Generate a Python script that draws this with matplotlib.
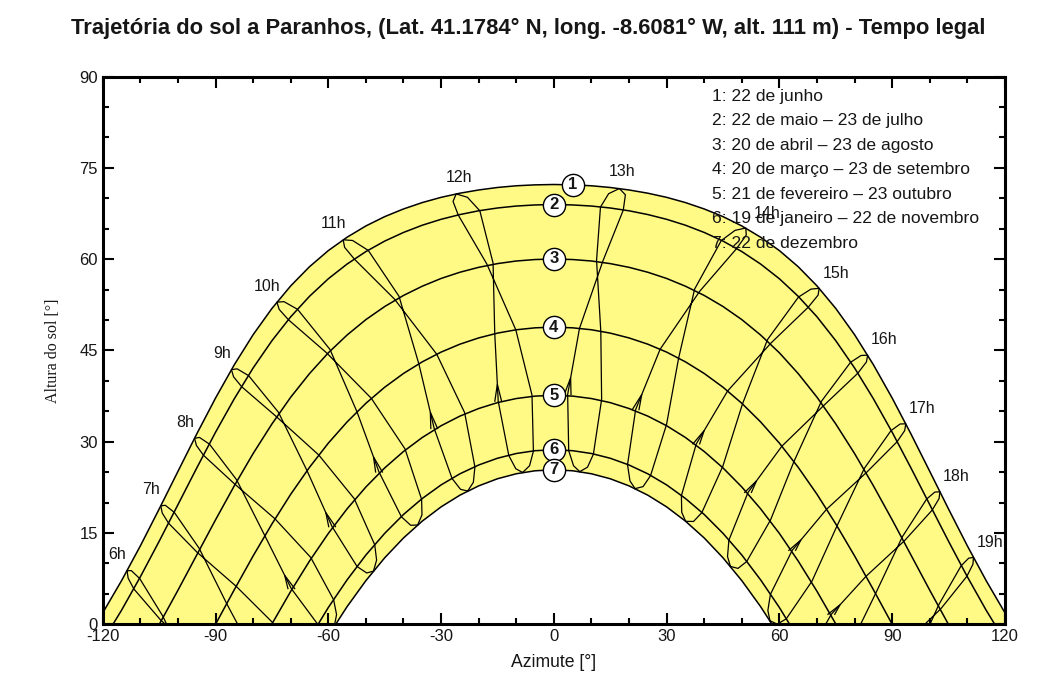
import matplotlib
matplotlib.use('Agg')
import matplotlib.pyplot as plt
import numpy as np
from matplotlib.ticker import MultipleLocator

plt.rcParams['font.family'] = ['Liberation Sans', 'DejaVu Sans']
plt.rcParams['axes.unicode_minus'] = False

# grelha de azimute (tarde) das curvas de data - as curvas sao simetricas
curve_az = [0, 5, 10, 15, 20, 25, 30, 35, 40, 45, 50, 55, 60,
            65, 70, 75, 80, 85, 90, 95, 100, 105, 110, 115, 120]

# altura do sol [graus] em cada azimute, curvas 1..7
alt_c1 = [72.26, 72.20, 72.05, 71.77, 71.36, 70.83, 70.15, 69.29, 68.24, 66.98, 65.45, 63.60, 61.40,
          58.75, 55.60, 51.89, 47.58, 42.65, 37.17, 31.27, 25.12, 18.93, 12.88, 7.17, 1.88]
alt_c2 = [68.97, 68.90, 68.72, 68.40, 67.94, 67.32, 66.54, 65.57, 64.38, 62.96, 61.24, 59.19, 56.77,
          53.89, 50.52, 46.59, 42.11, 37.06, 31.55, 25.68, 19.65, 13.63, 7.80, 2.31, -2.75]
alt_c3 = [60.02, 59.93, 59.69, 59.26, 58.65, 57.84, 56.82, 55.55, 54.03, 52.21, 50.06, 47.53, 44.60,
          41.19, 37.31, 32.91, 28.05, 22.76, 17.16, 11.38, 5.59, -0.05, -5.41, -10.39, -14.92]
alt_c4 = [48.82, 48.71, 48.39, 47.84, 47.05, 46.02, 44.72, 43.12, 41.21, 38.95, 36.31, 33.25, 29.76,
          25.79, 21.36, 16.48, 11.23, 5.69, 0.00, -5.69, -11.23, -16.48, -21.36, -25.79, -29.76]
alt_c5 = [37.62, 37.49, 37.09, 36.42, 35.45, 34.20, 32.62, 30.69, 28.39, 25.69, 22.56, 18.97, 14.92,
          10.39, 5.41, 0.05, -5.59, -11.38, -17.16, -22.76, -28.05, -32.91, -37.31, -41.19, -44.60]
alt_c6 = [28.67, 28.52, 28.06, 27.28, 26.17, 24.72, 22.90, 20.67, 18.04, 14.94, 11.38, 7.30, 2.75,
          -2.31, -7.80, -13.63, -19.65, -25.68, -31.55, -37.06, -42.11, -46.59, -50.52, -53.89, -56.77]
alt_c7 = [25.38, 25.22, 24.73, 23.91, 22.74, 21.21, 19.29, 16.95, 14.18, 10.92, 7.17, 2.90, -1.88,
          -7.17, -12.88, -18.93, -25.12, -31.27, -37.17, -42.65, -47.58, -51.89, -55.60, -58.75, -61.40]

legend_lines = ['1: 22 de junho',
                '2: 22 de maio \u2013 23 de julho',
                '3: 20 de abril \u2013 23 de agosto',
                '4: 20 de mar\u00e7o \u2013 23 de setembro',
                '5: 21 de fevereiro \u2013 23 outubro',
                '6: 19 de janeiro \u2013 22 de novembro',
                '7: 22 de dezembro']

# linhas horarias (tempo legal), 6h..19h : posicao do sol em cada data
hours = [6, 7, 8, 9, 10, 11, 12, 13, 14, 15, 16, 17, 18, 19]

az_dec22 = [-76.78, -67.84, -58.41, -47.99, -36.24, -22.92, -8.30, 6.89, 21.61, 35.06, 46.97, 57.49, 67.00, 75.96]
alt_dec22 = [-21.13, -10.38, -0.31, 8.73, 16.31, 21.89, 24.94, 25.08, 22.29, 16.92, 9.51, 0.58, -9.40, -20.10]
az_jan05 = [-78.52, -69.53, -60.12, -49.78, -38.09, -24.82, -10.13, 5.24, 20.25, 34.02, 46.20, 56.93, 66.59, 75.65]
alt_jan05 = [-21.87, -11.02, -0.81, 8.43, 16.27, 22.17, 25.56, 26.05, 23.55, 18.40, 11.12, 2.27, -7.67, -18.35]
az_jan19 = [-81.42, -72.25, -62.75, -52.33, -40.55, -27.07, -11.99, 3.95, 19.60, 33.93, 46.56, 57.61, 67.51, 76.78]
alt_jan19 = [-21.45, -10.47, -0.05, 9.48, 17.66, 23.95, 27.74, 28.53, 26.22, 21.13, 13.82, 4.92, -5.10, -15.84]
az_feb21 = [-89.48, -79.77, -69.84, -58.99, -46.51, -31.83, -14.80, 3.67, 21.75, 37.89, 51.66, 63.41, 73.82, 83.58]
alt_feb21 = [-16.25, -5.02, 5.86, 16.04, 25.02, 32.17, 36.65, 37.76, 35.26, 29.64, 21.67, 12.15, 1.64, -9.42]
az_mar20 = [-96.96, -87.03, -76.88, -65.65, -52.37, -35.92, -15.72, 6.82, 28.27, 46.23, 60.65, 72.56, 83.04, 92.97]
alt_mar20 = [-7.88, 3.39, 14.55, 25.23, 34.91, 42.80, 47.74, 48.62, 45.19, 38.34, 29.26, 18.91, 7.88, -3.39]
az_apr20 = [-104.03, -94.34, -84.39, -73.25, -59.55, -41.18, -16.17, 13.03, 38.75, 57.79, 71.89, 83.24, 93.26, 102.95]
alt_apr20 = [1.34, 12.47, 23.74, 34.82, 45.15, 53.88, 59.35, 59.66, 54.68, 46.23, 36.00, 24.99, 13.72, 2.55]
az_may22 = [-110.18, -100.97, -91.62, -81.21, -68.18, -49.37, -19.69, 18.47, 48.58, 67.66, 80.83, 91.29, 100.66, 109.87]
alt_may22 = [7.52, 18.39, 29.60, 40.86, 51.75, 61.43, 67.94, 68.06, 61.71, 52.09, 41.23, 29.98, 18.77, 7.88]
az_jun06 = [-112.40, -103.36, -94.27, -84.26, -71.79, -53.54, -22.99, 19.03, 51.18, 70.29, 83.15, 93.33, 102.47, 111.48]
alt_jun06 = [8.82, 19.55, 30.70, 41.97, 53.01, 63.06, 70.16, 70.57, 63.94, 54.08, 43.10, 31.82, 20.65, 9.86]
az_jun22 = [-113.54, -104.57, -95.58, -85.77, -73.67, -56.05, -25.98, 17.43, 51.06, 70.58, 83.48, 93.62, 102.70, 111.63]
alt_jun22 = [8.80, 19.46, 30.56, 41.84, 52.93, 63.18, 70.71, 71.60, 65.11, 55.20, 44.21, 32.94, 21.77, 10.99]
az_jul08 = [-113.24, -104.16, -95.08, -85.20, -73.06, -55.66, -26.82, 14.57, 48.22, 68.39, 81.73, 92.12, 101.34, 110.35]
alt_jul08 = [7.57, 18.26, 29.38, 40.66, 51.73, 61.93, 69.48, 70.75, 64.73, 55.07, 44.17, 32.91, 21.72, 10.86]
az_jul23 = [-111.72, -102.47, -93.19, -83.04, -70.58, -53.05, -25.42, 12.40, 44.55, 65.08, 78.92, 89.69, 99.17, 108.35]
alt_jul23 = [5.80, 16.59, 27.76, 39.03, 50.02, 59.99, 67.23, 68.55, 63.06, 53.77, 43.04, 31.82, 20.58, 9.62]
az_aug23 = [-104.60, -94.89, -84.99, -73.95, -60.44, -42.41, -17.80, 11.36, 37.45, 56.84, 71.17, 82.62, 92.70, 102.38]
alt_aug23 = [0.70, 11.82, 23.09, 34.19, 44.59, 53.44, 59.16, 59.79, 55.08, 46.78, 36.63, 25.64, 14.37, 3.19]
az_sep23 = [-94.42, -84.51, -74.17, -62.53, -48.55, -31.15, -10.12, 12.49, 33.19, 50.18, 63.86, 75.32, 85.58, 95.49]
alt_sep23 = [-5.04, 6.24, 17.32, 27.81, 37.12, 44.37, 48.38, 48.14, 43.73, 36.21, 26.73, 16.16, 5.04, -6.24]
az_oct23 = [-84.69, -74.97, -64.67, -53.10, -39.60, -23.73, -5.81, 12.71, 29.98, 44.95, 57.65, 68.66, 78.65, 88.34]
alt_oct23 = [-10.71, 0.38, 10.98, 20.64, 28.82, 34.77, 37.65, 36.96, 32.84, 25.96, 17.15, 7.08, -3.74, -14.95]
az_nov22 = [-77.63, -68.40, -58.58, -47.65, -35.18, -21.00, -5.44, 10.52, 25.72, 39.36, 51.30, 61.82, 71.39, 80.57]
alt_nov22 = [-16.86, -6.08, 4.02, 13.06, 20.53, 25.86, 28.44, 27.95, 24.42, 18.34, 10.31, 0.89, -9.47, -20.41]
az_dec06 = [-76.44, -67.39, -57.80, -47.15, -35.08, -21.41, -6.46, 8.95, 23.74, 37.15, 48.98, 59.42, 68.89, 77.89]
alt_dec06 = [-19.15, -8.43, 1.59, 10.55, 17.97, 23.33, 26.05, 25.81, 22.62, 16.89, 9.18, 0.02, -10.13, -20.94]

# ordem do ano (o anel fecha em dezembro)
year_az = [az_dec22, az_jan05, az_jan19, az_feb21, az_mar20, az_apr20, az_may22, az_jun06, az_jun22,
           az_jul08, az_jul23, az_aug23, az_sep23, az_oct23, az_nov22, az_dec06, az_dec22]
year_alt = [alt_dec22, alt_jan05, alt_jan19, alt_feb21, alt_mar20, alt_apr20, alt_may22, alt_jun06, alt_jun22,
            alt_jul08, alt_jul23, alt_aug23, alt_sep23, alt_oct23, alt_nov22, alt_dec06, alt_dec22]

yellow = '#FFF985'
txt = '#161616'


def full_curve(alt):
    g = np.array(curve_az, dtype=float)
    a = np.array(alt, dtype=float)
    return np.concatenate([-g[::-1], g[1:]]), np.concatenate([a[::-1], a[1:]])


fig, ax = plt.subplots(figsize=(10.4, 6.87), dpi=100)
fig.subplots_adjust(left=0.0988, right=0.9663, bottom=0.0913, top=0.8886)

# faixa amarela entre 22 de junho e 22 de dezembro
x1, y1 = full_curve(alt_c1)
x7, y7 = full_curve(alt_c7)
ax.fill_between(x1, y7, y1, color=yellow, lw=0, zorder=1)

# curvas de data
curves = [alt_c1, alt_c2, alt_c3, alt_c4, alt_c5, alt_c6, alt_c7]
for c in curves:
    cx, cy = full_curve(c)
    ax.plot(cx, cy, color='black', lw=1.1, zorder=3)

# linhas horarias (analemas)
for i, h in enumerate(hours):
    lx = [d[i] for d in year_az]
    ly = [d[i] for d in year_alt]
    ax.plot(lx, ly, color='black', lw=0.9, zorder=2)

    # pequeno pico em fevereiro
    if alt_feb21[i] > 0:
        px = az_feb21[i] + 0.25 * (az_mar20[i] - az_feb21[i])
        py = alt_feb21[i] + 0.25 * (alt_mar20[i] - alt_feb21[i])
        ax.plot([az_feb21[i] - 0.9, px, az_feb21[i] + 0.9],
                [alt_feb21[i], py, alt_feb21[i]], color='black', lw=0.9, zorder=2)

    # etiqueta da hora, junto ao ponto de junho
    if h < 12:
        off = (-7.0, 11.5)
    elif h < 14:
        off = (2.0, 12.0)
    elif h == 14:
        off = (15.0, 10.5)
    else:
        off = (12.0, 11.0)
    ax.annotate('%dh' % h, (az_jun22[i], alt_jun22[i]), xytext=off,
                textcoords='offset points', ha='center', va='center',
                fontsize=11.5, color=txt, zorder=5)

# numeros das curvas
for k, c in enumerate(curves):
    j = 1 if k == 0 else 0
    ax.plot(curve_az[j], c[j], 'o', ms=16, mfc='white', mec='black', mew=1.0, zorder=6)
    ax.text(curve_az[j], c[j], str(k + 1), ha='center', va='center',
            fontsize=12, fontweight='bold', color=txt, zorder=7)

# legenda
for k, s in enumerate(legend_lines):
    ax.text(0.675, 0.964 - k * 0.0447, s, transform=ax.transAxes,
            ha='left', va='center', fontsize=12.6, color=txt, zorder=8)

ax.set_xlim(-120, 120)
ax.set_ylim(0, 90)
ax.set_xticks([-120, -90, -60, -30, 0, 30, 60, 90, 120])
ax.set_yticks([0, 15, 30, 45, 60, 75, 90])
ax.xaxis.set_minor_locator(MultipleLocator(10))
ax.yaxis.set_minor_locator(MultipleLocator(5))
ax.tick_params(which='both', direction='in', top=True, right=True, width=1.5,
               labelsize=12, labelcolor=txt)
ax.tick_params(which='major', length=8)
ax.tick_params(which='minor', length=4)
for sp in ax.spines.values():
    sp.set_linewidth(2.2)

ax.set_xlabel('Azimute [\u00b0]', fontsize=12.7, color=txt)
ax.xaxis.set_label_coords(0.5, -0.054)
ax.set_ylabel('Altura do sol [\u00b0]', family=['Liberation Serif', 'DejaVu Serif'],
              fontsize=11.5, color=txt)
ax.yaxis.set_label_coords(-0.046, 0.5)

fig.text(0.508, 0.959,
         'Trajet\u00f3ria do sol a Paranhos, (Lat. 41.1784\u00b0 N, long. -8.6081\u00b0 W, '
         'alt. 111 m) - Tempo legal',
         ha='center', va='center', fontsize=15.8, fontweight='bold', color=txt)

fig.savefig('out.png', dpi=100)
